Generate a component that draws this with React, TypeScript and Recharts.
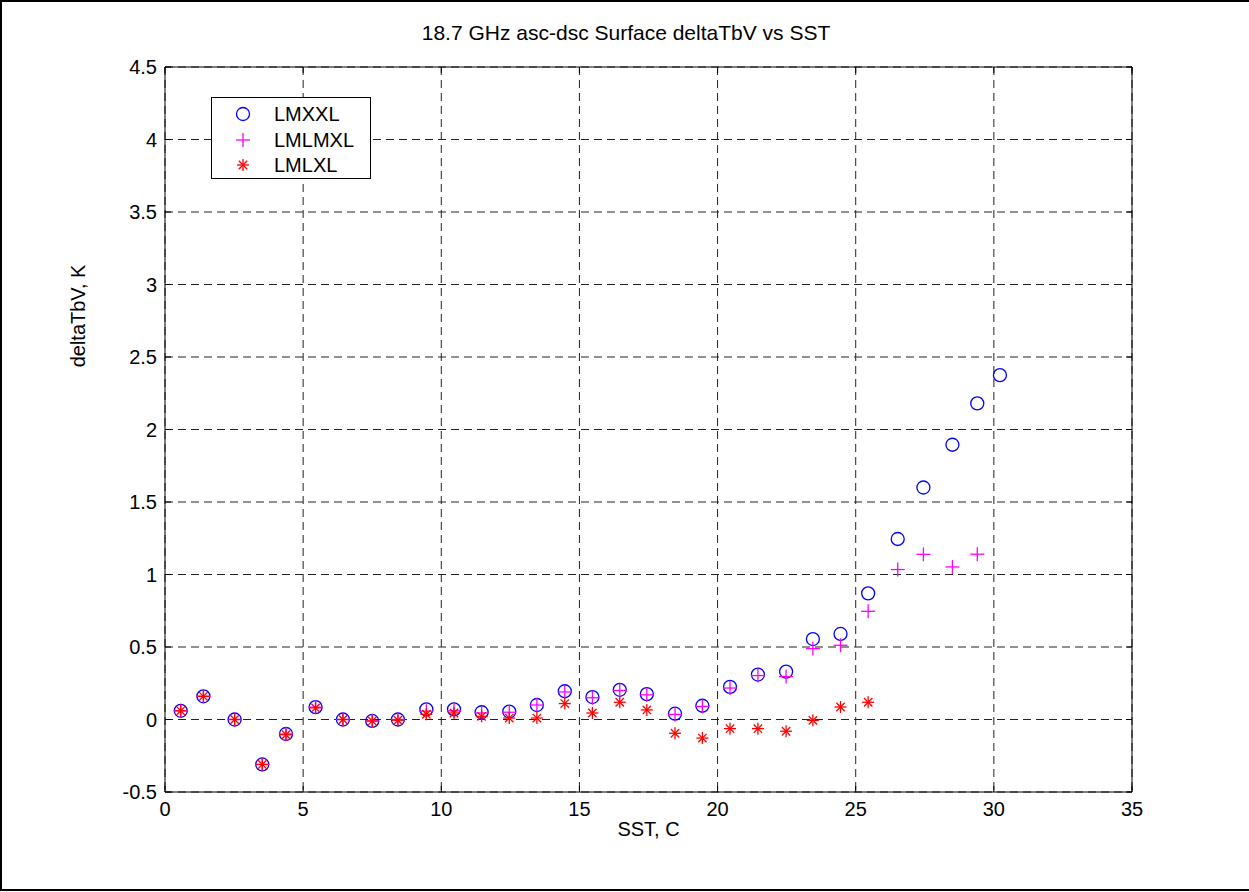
import React from "react"
import {
  ScatterChart,
  Scatter,
  XAxis,
  YAxis,
  CartesianGrid,
  ReferenceLine,
} from "recharts"

// SST bin centres (C)
const sst = [
  0.57, 1.39, 2.52, 3.52, 4.38, 5.45, 6.44, 7.5, 8.43, 9.46, 10.46, 11.46, 12.46, 13.46, 14.47,
  15.47, 16.46, 17.44, 18.46, 19.45, 20.45, 21.46, 22.48, 23.45, 24.45, 25.45, 26.52, 27.45,
  28.5, 29.4, 30.22,
]

const lmxxl = [
  0.06, 0.16, 0.0, -0.31, -0.1, 0.085, 0.0, -0.01, 0.0, 0.07, 0.07, 0.05, 0.055, 0.1, 0.195,
  0.155, 0.205, 0.175, 0.04, 0.095, 0.225, 0.31, 0.33, 0.555, 0.59, 0.87, 1.245, 1.6, 1.895,
  2.18, 2.375,
]

const lmlmxl = [
  0.06, 0.16, 0.0, -0.31, -0.1, 0.085, 0.0, -0.01, 0.0, 0.057, 0.06, 0.045, 0.05, 0.1, 0.19,
  0.15, 0.2, 0.17, 0.035, 0.09, 0.217, 0.303, 0.296, 0.489, 0.512, 0.746, 1.034, 1.139, 1.052,
  1.14,
]

const lmlxl = [
  0.06, 0.16, 0.0, -0.31, -0.105, 0.08, 0.0, -0.01, -0.005, 0.036, 0.045, 0.022, 0.01, 0.01,
  0.11, 0.045, 0.119, 0.066, -0.095, -0.128, -0.063, -0.063, -0.081, -0.006, 0.086, 0.119,
]

const xTicks = [0, 5, 10, 15, 20, 25, 30, 35]
const yTicks = [-0.5, 0, 0.5, 1, 1.5, 2, 2.5, 3, 3.5, 4, 4.5]

const W = 1249
const H = 892
const PLOT_LEFT = 165
const PLOT_RIGHT = 1132
const PLOT_TOP = 67
const PLOT_BOTTOM = 792
const Y_AXIS_W = 60
const X_AXIS_H = 40
const FONT = "'Liberation Sans', Arial, Helvetica, sans-serif"
const FS = 20
const TICK = 6

const toPoints = (ys: number[]) => ys.map((y, i) => ({ x: sst[i], y }))

const CircleMark = (p: any) => (
  <circle cx={p.cx} cy={p.cy} r={6.5} fill="none" stroke="#0000ff" strokeWidth={1.3} />
)

const PlusMark = (p: any) => (
  <g stroke="#ff00ff" strokeWidth={1.3}>
    <line x1={p.cx - 7} y1={p.cy} x2={p.cx + 7} y2={p.cy} />
    <line x1={p.cx} y1={p.cy - 7} x2={p.cx} y2={p.cy + 7} />
  </g>
)

const StarMark = (p: any) => (
  <g stroke="#ff0000" strokeWidth={1.3}>
    <line x1={p.cx - 6} y1={p.cy} x2={p.cx + 6} y2={p.cy} />
    <line x1={p.cx} y1={p.cy - 6} x2={p.cx} y2={p.cy + 6} />
    <line x1={p.cx - 4.2} y1={p.cy - 4.2} x2={p.cx + 4.2} y2={p.cy + 4.2} />
    <line x1={p.cx - 4.2} y1={p.cy + 4.2} x2={p.cx + 4.2} y2={p.cy - 4.2} />
  </g>
)

const XTick = (p: any) => {
  const axisY = p.y - 10
  return (
    <g>
      <line x1={p.x} y1={axisY} x2={p.x} y2={axisY - TICK} stroke="#000" />
      <line x1={p.x} y1={PLOT_TOP} x2={p.x} y2={PLOT_TOP + TICK} stroke="#000" />
      <text x={p.x} y={p.y} dy="0.71em" textAnchor="middle" fontSize={FS} fontFamily={FONT} fill="#000">
        {p.payload.value}
      </text>
    </g>
  )
}

const YTick = (p: any) => {
  const axisX = p.x + 8
  return (
    <g>
      <line x1={axisX} y1={p.y} x2={axisX + TICK} y2={p.y} stroke="#000" />
      <line x1={PLOT_RIGHT} y1={p.y} x2={PLOT_RIGHT - TICK} y2={p.y} stroke="#000" />
      <text x={p.x} y={p.y} dy="0.355em" textAnchor="end" fontSize={FS} fontFamily={FONT} fill="#000">
        {p.payload.value}
      </text>
    </g>
  )
}

const legendItems = [
  { name: "LMXXL", Mark: CircleMark },
  { name: "LMLMXL", Mark: PlusMark },
  { name: "LMLXL", Mark: StarMark },
]

export default function App() {
  return (
    <div style={{ position: "absolute", left: 0, top: 0, width: W, height: H, background: "#fff", fontFamily: FONT }}>
      <ScatterChart
        width={W}
        height={H}
        margin={{
          top: PLOT_TOP,
          right: W - PLOT_RIGHT,
          bottom: H - PLOT_BOTTOM - X_AXIS_H,
          left: PLOT_LEFT - Y_AXIS_W,
        }}
      >
        <CartesianGrid stroke="#222" strokeDasharray="8 5" />
        <XAxis
          type="number"
          dataKey="x"
          domain={[0, 35]}
          ticks={xTicks}
          height={X_AXIS_H}
          tickSize={0}
          tickMargin={10}
          tickLine={false}
          tick={<XTick />}
          axisLine={{ stroke: "#000" }}
          allowDataOverflow
          label={{ value: "SST, C", position: "bottom", offset: -10, fill: "#000", fontSize: FS, fontFamily: FONT }}
        />
        <YAxis
          type="number"
          dataKey="y"
          domain={[-0.5, 4.5]}
          ticks={yTicks}
          width={Y_AXIS_W}
          tickSize={0}
          tickMargin={8}
          tickLine={false}
          tick={<YTick />}
          axisLine={{ stroke: "#000" }}
          allowDataOverflow
        />
        <ReferenceLine y={4.5} stroke="#000" />
        <ReferenceLine x={35} stroke="#000" />
        <Scatter name="LMXXL" data={toPoints(lmxxl)} shape={CircleMark} isAnimationActive={false} />
        <Scatter name="LMLMXL" data={toPoints(lmlmxl)} shape={PlusMark} isAnimationActive={false} />
        <Scatter name="LMLXL" data={toPoints(lmlxl)} shape={StarMark} isAnimationActive={false} />
      </ScatterChart>

      <div
        style={{
          position: "absolute",
          left: 0,
          top: 20,
          width: 1252,
          textAlign: "center",
          fontSize: 21,
          lineHeight: "26px",
          color: "#000",
        }}
      >
        18.7 GHz asc-dsc Surface deltaTbV vs SST
      </div>

      <div
        style={{
          position: "absolute",
          left: 78,
          top: 316,
          transform: "translate(-50%, -50%) rotate(-90deg)",
          fontSize: FS,
          lineHeight: "24px",
          whiteSpace: "nowrap",
          color: "#000",
        }}
      >
        deltaTbV, K
      </div>

      <div
        style={{
          position: "absolute",
          left: 211,
          top: 97,
          width: 160,
          height: 82,
          border: "1px solid #000",
          background: "#fff",
          boxSizing: "border-box",
        }}
      >
        {legendItems.map((item, i) => (
          <div key={item.name} style={{ position: "absolute", left: 0, top: 3 + i * 25.5, height: 26, width: 158 }}>
            <svg width={50} height={26} style={{ position: "absolute", left: 6, top: 0 }}>
              <item.Mark cx={25} cy={13} />
            </svg>
            <span style={{ position: "absolute", left: 62, top: 0, fontSize: FS, lineHeight: "26px", color: "#000" }}>
              {item.name}
            </span>
          </div>
        ))}
      </div>

      <div
        style={{
          position: "absolute",
          left: 0,
          top: 0,
          width: W,
          height: 891,
          borderLeft: "2px solid #000",
          borderTop: "2px solid #000",
          borderBottom: "2px solid #000",
          boxSizing: "border-box",
          pointerEvents: "none",
        }}
      />
    </div>
  )
}
